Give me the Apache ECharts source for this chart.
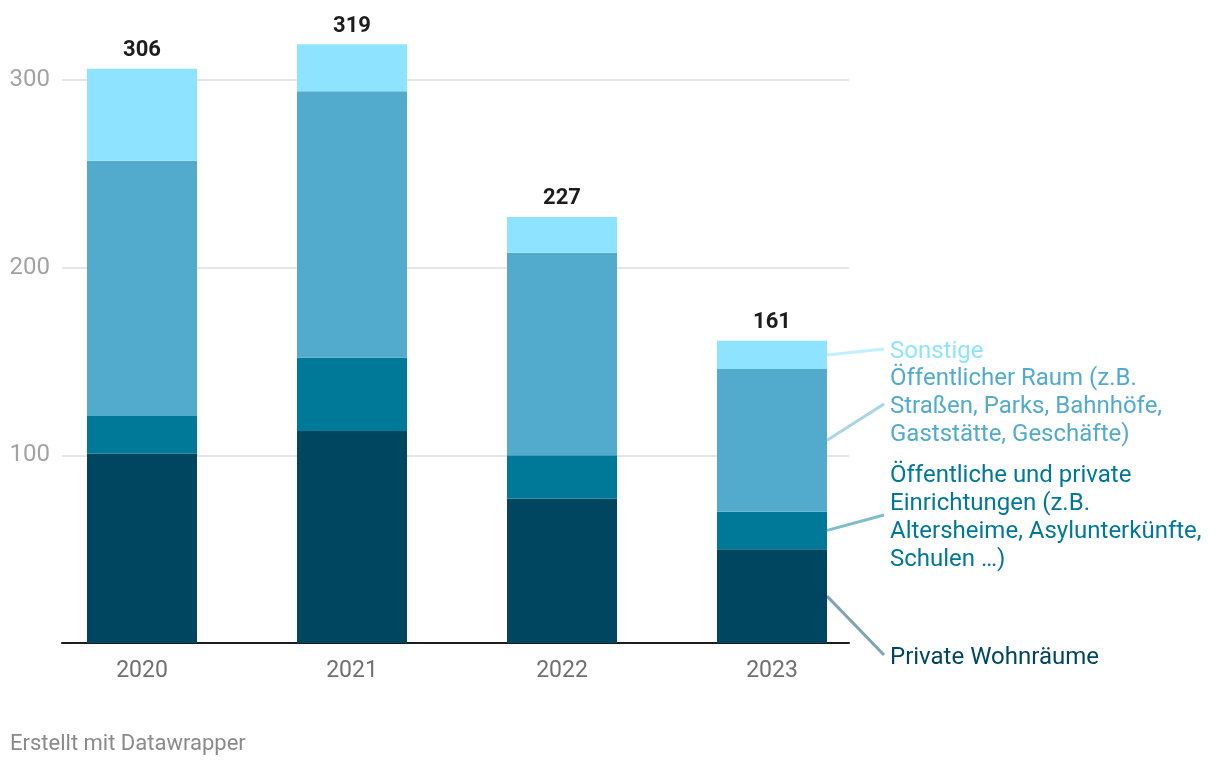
<!DOCTYPE html>
<html>
<head>
<meta charset="utf-8">
<script src="https://cdn.jsdelivr.net/npm/echarts@6/dist/echarts.min.js"></script>
<style>
html,body{margin:0;padding:0;background:#fff;}
#c{width:1220px;height:766px;}
</style>
</head>
<body>
<div id="c"></div>
<script>
const years = ['2020', '2021', '2022', '2023'];
const privateWohn = [101, 113, 77, 50];
const einrichtungen = [20, 39, 23, 20];
const oeffRaum = [136, 142, 108, 76];
const sonstige = [49, 25, 19, 15];
const totals = [306, 319, 227, 161];
const yTicks = [0, 100, 200, 300];

const seriesDefs = [
  { name: 'Private Wohnräume', data: privateWohn, color: '#004661', text: 'Private Wohnräume', textColor: '#004661', lineColor: '#7fa4b2', ty: 655 },
  { name: 'Öffentliche und private Einrichtungen', data: einrichtungen, color: '#007898', text: 'Öffentliche und private\nEinrichtungen (z.B.\nAltersheime, Asylunterkünfte,\nSchulen …)', textColor: '#007898', lineColor: '#7fbccc', ty: 515 },
  { name: 'Öffentlicher Raum', data: oeffRaum, color: '#52abcd', text: 'Öffentlicher Raum (z.B.\nStraßen, Parks, Bahnhöfe,\nGaststätte, Geschäfte)', textColor: '#52abcd', lineColor: '#a9d5e6', ty: 404 },
  { name: 'Sonstige', data: sonstige, color: '#8ee4ff', text: 'Sonstige', textColor: '#8ee4ff', lineColor: '#c1f0ff', ty: 349 }
];

const FONT = 'Roboto, "Noto Sans", sans-serif';
const chart = echarts.init(document.getElementById('c'), null, { renderer: 'canvas' });

const series = seriesDefs.map(s => ({
  type: 'bar',
  name: s.name,
  stack: 'total',
  xAxisIndex: 1,
  yAxisIndex: 1,
  barWidth: 110,
  clip: false,
  data: s.data,
  itemStyle: { color: s.color },
  emphasis: { disabled: true }
}));
series.push({
  type: 'bar',
  name: 'Gesamt',
  stack: 'total',
  xAxisIndex: 1,
  yAxisIndex: 1,
  barWidth: 110,
  clip: false,
  data: years.map(() => 0),
  itemStyle: { color: 'transparent' },
  label: {
    show: true,
    position: 'top',
    distance: 7,
    formatter: p => String(totals[p.dataIndex]),
    color: '#1d1d1d',
    fontFamily: FONT,
    fontWeight: 'bold',
    fontSize: 22
  }
});

const option = {
  animation: false,
  backgroundColor: '#fff',
  grid: [
    { left: 62, right: 371, top: 80, bottom: 123 },
    { left: 37, right: 343, top: 80, bottom: 123 }
  ],
  xAxis: [
    { type: 'category', gridIndex: 0, data: years, axisLine: { show: true, lineStyle: { color: '#1d1d1d', width: 2 } }, axisTick: { show: false }, axisLabel: { show: false }, splitLine: { show: false } },
    { type: 'category', gridIndex: 1, data: years, axisLine: { show: false }, axisTick: { show: false },
      axisLabel: { color: '#707070', fontFamily: FONT, fontSize: 23, margin: 17 } }
  ],
  yAxis: [
    { type: 'value', gridIndex: 0, min: yTicks[0], max: yTicks[yTicks.length - 1], interval: 100,
      axisLine: { show: false }, axisTick: { show: false },
      axisLabel: { showMinLabel: false, color: '#a3a3a3', fontFamily: FONT, fontSize: 24, margin: 12 },
      splitLine: { show: true, lineStyle: { color: '#e5e5e5', width: 2 } } },
    { type: 'value', gridIndex: 1, min: yTicks[0], max: yTicks[yTicks.length - 1], interval: 100, show: false, splitLine: { show: false } }
  ],
  series: series
};
chart.setOption(option);

// annotations for the last category, anchored via the chart's own scales
const last = years.length - 1;
const graphics = [];
let base = 0;
seriesDefs.forEach(s => {
  const v = s.data[last];
  const mid = base + v / 2;
  base += v;
  const pt = chart.convertToPixel({ xAxisIndex: 1, yAxisIndex: 1 }, [last, mid]);
  graphics.push({
    type: 'line',
    shape: { x1: pt[0] + 55, y1: pt[1], x2: 884, y2: s.ty },
    style: { stroke: s.lineColor, lineWidth: 3 },
    silent: true
  });
  graphics.push({
    type: 'text',
    left: 890,
    top: s.ty - (s.text.split('\n').length * 28) / 2 + 3,
    style: { text: s.text, fill: s.textColor, font: '24px ' + FONT, lineHeight: 28 },
    silent: true
  });
});
graphics.push({
  type: 'text',
  left: 10,
  top: 733,
  style: { text: 'Erstellt mit Datawrapper', fill: '#8a8a8a', font: '22px ' + FONT },
  silent: true
});
chart.setOption({ graphic: graphics });
</script>
</body>
</html>
